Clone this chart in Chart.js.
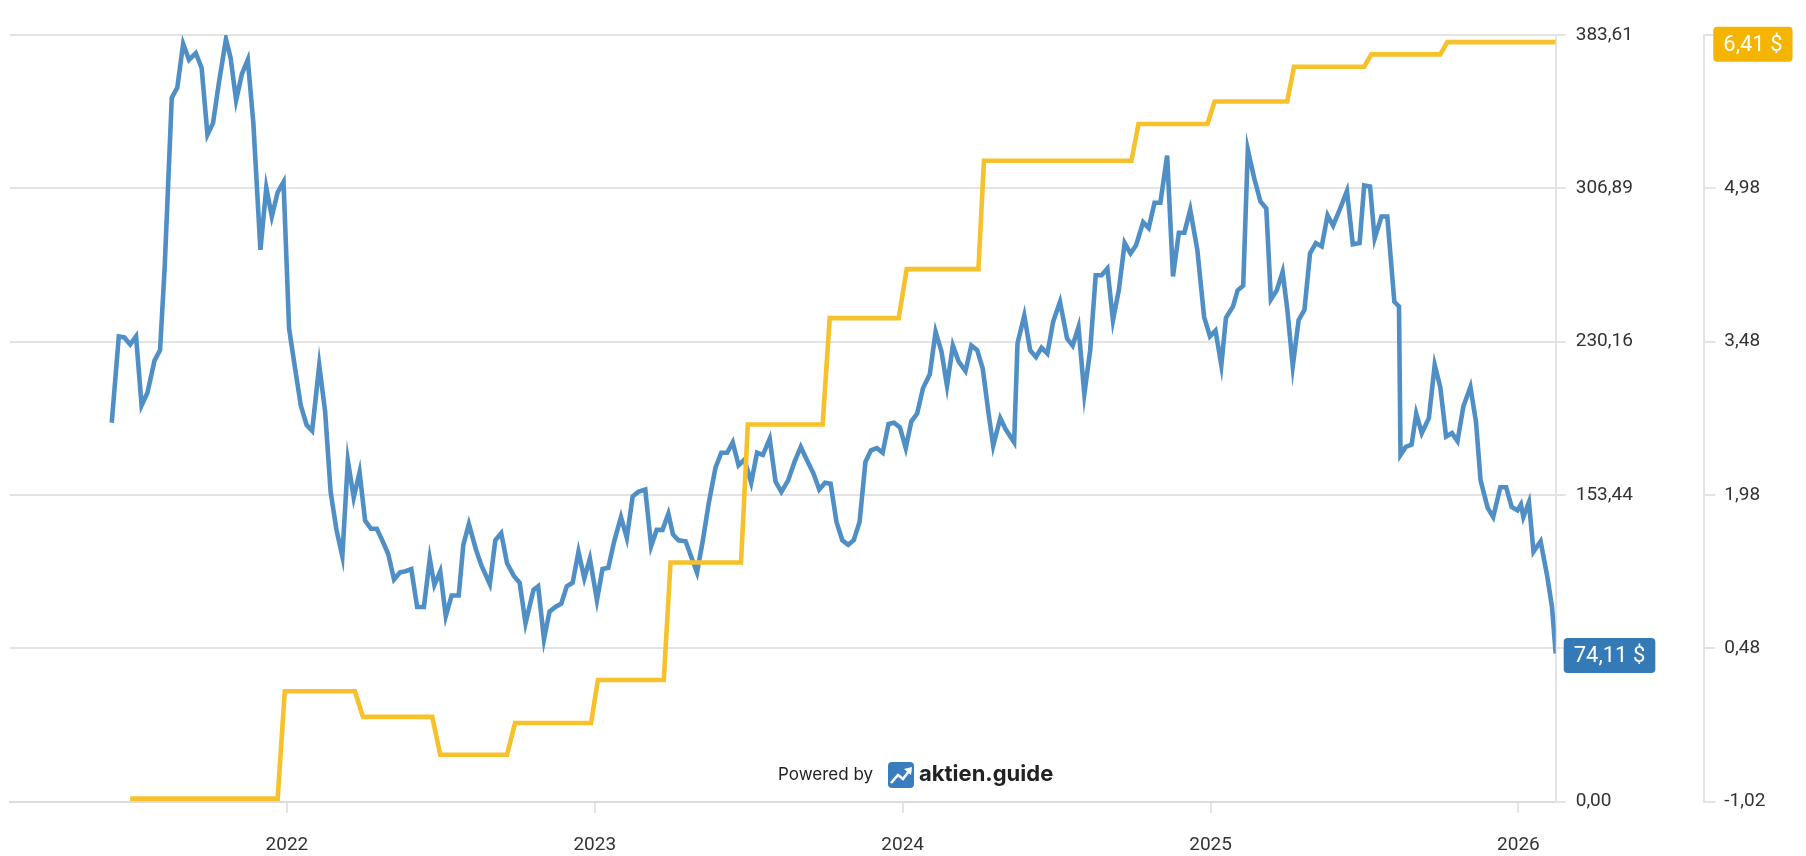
<!DOCTYPE html>
<html lang="de">
<head>
  <meta charset="UTF-8">
  <title>Kurs und Dividende</title>
  <script src="https://cdn.jsdelivr.net/npm/chart.js@4.4.1/dist/chart.umd.min.js"></script>
  <style>
    html, body { margin: 0; padding: 0; background: #fff; }
    #wrap { width: 1806px; height: 856px; position: relative; }
  </style>
</head>
<body>
<div id="wrap"><canvas id="kursChart"></canvas></div>

<script>
  // weekly closing price, x as decimal year
  const priceDates = [
    2021.431, 2021.454, 2021.472, 2021.491, 2021.510, 2021.528, 2021.547, 2021.570, 2021.588, 2021.603,
    2021.626, 2021.644, 2021.663, 2021.682, 2021.704, 2021.723, 2021.742, 2021.760, 2021.779, 2021.802,
    2021.817, 2021.835, 2021.854, 2021.873, 2021.891, 2021.914, 2021.933, 2021.951, 2021.970, 2021.989,
    2022.007, 2022.026, 2022.045, 2022.064, 2022.082, 2022.105, 2022.124, 2022.142, 2022.161, 2022.180,
    2022.198, 2022.217, 2022.236, 2022.254, 2022.273, 2022.292, 2022.311, 2022.329, 2022.348, 2022.367,
    2022.385, 2022.404, 2022.423, 2022.445, 2022.464, 2022.479, 2022.498, 2022.516, 2022.535, 2022.558,
    2022.573, 2022.591, 2022.614, 2022.632, 2022.659, 2022.677, 2022.696, 2022.715, 2022.737, 2022.756,
    2022.775, 2022.801, 2022.816, 2022.835, 2022.853, 2022.872, 2022.891, 2022.909, 2022.928, 2022.947,
    2022.966, 2022.984, 2023.007, 2023.025, 2023.044, 2023.063, 2023.085, 2023.104, 2023.123, 2023.141,
    2023.164, 2023.183, 2023.201, 2023.220, 2023.239, 2023.254, 2023.272, 2023.295, 2023.314, 2023.332,
    2023.351, 2023.370, 2023.392, 2023.411, 2023.430, 2023.448, 2023.467, 2023.486, 2023.508, 2023.527,
    2023.546, 2023.568, 2023.587, 2023.606, 2023.628, 2023.650, 2023.669, 2023.688, 2023.710, 2023.729,
    2023.748, 2023.766, 2023.785, 2023.804, 2023.823, 2023.841, 2023.860, 2023.879, 2023.897, 2023.916,
    2023.935, 2023.954, 2023.972, 2023.991, 2024.010, 2024.028, 2024.047, 2024.066, 2024.088, 2024.107,
    2024.126, 2024.144, 2024.163, 2024.182, 2024.204, 2024.223, 2024.242, 2024.260, 2024.279, 2024.294,
    2024.317, 2024.335, 2024.362, 2024.373, 2024.395, 2024.414, 2024.433, 2024.451, 2024.470, 2024.489,
    2024.511, 2024.534, 2024.552, 2024.571, 2024.590, 2024.609, 2024.627, 2024.646, 2024.665, 2024.683,
    2024.702, 2024.721, 2024.740, 2024.758, 2024.781, 2024.799, 2024.818, 2024.837, 2024.859, 2024.878,
    2024.897, 2024.915, 2024.934, 2024.957, 2024.979, 2024.998, 2025.016, 2025.035, 2025.050, 2025.073,
    2025.088, 2025.106, 2025.121, 2025.142, 2025.162, 2025.181, 2025.196, 2025.215, 2025.234, 2025.249,
    2025.267, 2025.286, 2025.305, 2025.323, 2025.342, 2025.361, 2025.380, 2025.398, 2025.421, 2025.443,
    2025.462, 2025.484, 2025.499, 2025.518, 2025.533, 2025.555, 2025.574, 2025.597, 2025.612, 2025.617,
    2025.634, 2025.653, 2025.668, 2025.686, 2025.709, 2025.728, 2025.746, 2025.765, 2025.784, 2025.802,
    2025.821, 2025.844, 2025.862, 2025.877, 2025.900, 2025.918, 2025.941, 2025.960, 2025.978, 2025.997,
    2026.008, 2026.016, 2026.034, 2026.049, 2026.072, 2026.094, 2026.109, 2026.121
  ];
  const priceValues = [
    189.6, 232.8, 232.3, 228.8, 232.8, 198.3, 204.6, 220.7, 225.9, 267.4,
    352.1, 357.3, 379.2, 371.2, 374.6, 367.1, 333.7, 339.5, 359.6, 381.5,
    372.3, 351.0, 364.2, 371.2, 339.5, 276.1, 307.2, 292.8, 304.9, 310.1,
    236.9, 217.3, 198.3, 188.5, 185.6, 218.4, 195.4, 155.0, 136.0, 122.8,
    170.6, 152.2, 164.8, 140.6, 136.6, 136.6, 130.3, 123.9, 111.2, 114.7,
    115.3, 116.4, 97.4, 97.4, 121.6, 108.4, 115.3, 92.8, 103.2, 103.2,
    128.5, 138.9, 126.2, 118.1, 108.9, 130.8, 134.3, 119.3, 113.0, 109.5,
    89.3, 106.0, 107.8, 81.3, 95.1, 97.4, 99.1, 107.8, 109.5, 125.1,
    111.8, 121.6, 100.9, 116.4, 117.0, 130.3, 142.4, 132.0, 152.7, 155.0,
    156.2, 127.9, 136.0, 136.0, 144.1, 133.7, 130.8, 130.3, 122.2, 114.7,
    130.8, 149.3, 167.1, 174.6, 174.6, 179.8, 168.3, 171.2, 159.6, 174.6,
    173.5, 181.5, 160.2, 155.0, 160.8, 170.6, 177.5, 171.2, 164.3, 156.2,
    159.6, 159.1, 140.0, 130.8, 128.5, 130.8, 140.0, 170.0, 175.8, 176.9,
    174.6, 189.0, 189.6, 187.3, 176.9, 190.2, 194.2, 206.9, 213.8, 235.1,
    225.3, 208.1, 228.2, 220.2, 215.5, 228.2, 225.9, 216.7, 194.2, 178.1,
    191.9, 186.2, 179.8, 229.4, 243.2, 225.9, 222.5, 227.1, 224.2, 240.3,
    250.1, 231.7, 228.2, 237.5, 204.0, 225.9, 263.4, 263.4, 266.8, 240.9,
    255.9, 279.5, 274.3, 278.4, 289.9, 287.0, 299.7, 299.7, 323.3, 262.8,
    284.7, 284.7, 296.2, 276.1, 242.6, 232.8, 235.7, 218.4, 242.1, 247.8,
    255.9, 258.2, 326.2, 311.8, 300.3, 296.8, 251.3, 255.9, 265.1, 246.7,
    217.9, 240.9, 246.1, 274.3, 279.5, 277.8, 293.4, 288.2, 296.8, 305.5,
    278.9, 279.5, 308.3, 307.8, 281.8, 292.8, 292.8, 250.1, 247.8, 173.5,
    177.5, 178.7, 194.2, 184.4, 191.9, 218.4, 207.5, 182.7, 184.4, 180.4,
    197.7, 207.5, 190.2, 160.8, 147.0, 142.4, 157.3, 157.3, 147.5, 145.8,
    148.7, 142.4, 149.8, 125.1, 130.3, 112.4, 97.4, 74.11
  ];

  // dividend line (right axis), corners of the steps
  const dividendDates = [
    2021.491, 2021.970, 2021.993, 2022.221, 2022.247, 2022.472, 2022.498, 2022.715,
    2022.741, 2022.988, 2023.010, 2023.224, 2023.246, 2023.475, 2023.497, 2023.740,
    2023.763, 2023.987, 2024.013, 2024.246, 2024.264, 2024.743, 2024.766, 2024.990,
    2025.013, 2025.249, 2025.271, 2025.499, 2025.522, 2025.746, 2025.769, 2026.121
  ];
  const dividendValues = [
    -0.99, -0.99, 0.06, 0.06, -0.19, -0.19, -0.56, -0.56,
    -0.25, -0.25, 0.17, 0.17, 1.32, 1.32, 2.67, 2.67,
    3.71, 3.71, 4.19, 4.19, 5.25, 5.25, 5.61, 5.61,
    5.83, 5.83, 6.17, 6.17, 6.29, 6.29, 6.41, 6.41
  ];

  const yearTicks = [2022, 2023, 2024, 2025, 2026];
  const priceTicks = [0, 76.7214, 153.4428, 230.1642, 306.8856, 383.607];
  const dividendTicks = [-1.02, 0.48, 1.98, 3.48, 4.98, 6.48];

  const BLUE = '#4f8fc6';
  const YELLOW = '#f6c12a';
  const GRID = '#e3e3e3';
  const TEXT = '#333333';
  const TICK_FONT = { family: 'Roboto', size: 19 };

  function fmt(v) {
    return v.toFixed(2).replace('.', ',');
  }

  function drawBadge(ctx, x, cy, text, color) {
    ctx.save();
    ctx.font = '22px Roboto';
    const w = ctx.measureText(text).width + 20;
    const h = 35;
    ctx.fillStyle = color;
    ctx.beginPath();
    ctx.roundRect(x, cy - h / 2, w, h, 4);
    ctx.fill();
    ctx.fillStyle = '#ffffff';
    ctx.textBaseline = 'middle';
    ctx.textAlign = 'left';
    ctx.fillText(text, x + 10, cy + 1);
    ctx.restore();
  }

  const badgePlugin = {
    id: 'badges',
    afterDraw(chart) {
      const ctx = chart.ctx;
      const y = chart.scales.y;
      const y2 = chart.scales.y2;
      const lastPrice = priceValues[priceValues.length - 1];
      const lastDiv = dividendValues[dividendValues.length - 1];
      drawBadge(ctx, y.left + 8, y.getPixelForValue(lastPrice) + 2, fmt(lastPrice) + ' $', '#337ab7');
      drawBadge(ctx, y2.left + 9, y2.getPixelForValue(lastDiv) + 2, fmt(lastDiv) + ' $', '#f4b400');
    }
  };

  // "Powered by aktien.guide" mark
  const brandPlugin = {
    id: 'brand',
    afterDraw(chart) {
      const ctx = chart.ctx;
      const cy = 775;
      ctx.save();
      ctx.textBaseline = 'middle';
      ctx.fillStyle = '#222222';
      ctx.font = '17px Inter';
      ctx.fillText('Powered by', 778, cy);

      const ix = 888, iy = 762, s = 26;
      ctx.fillStyle = '#3a7dbf';
      ctx.beginPath();
      ctx.roundRect(ix, iy, s, s, 4);
      ctx.fill();
      ctx.strokeStyle = '#ffffff';
      ctx.lineWidth = 2.6;
      ctx.beginPath();
      ctx.moveTo(ix + 3, iy + 21);
      ctx.lineTo(ix + 10, iy + 13);
      ctx.lineTo(ix + 15, iy + 17);
      ctx.lineTo(ix + 21, iy + 9);
      ctx.stroke();
      ctx.fillStyle = '#ffffff';
      ctx.beginPath();
      ctx.moveTo(ix + 24, iy + 5);
      ctx.lineTo(ix + 16, iy + 7);
      ctx.lineTo(ix + 23, iy + 13);
      ctx.closePath();
      ctx.fill();

      ctx.fillStyle = '#222222';
      ctx.font = 'bold 22px Inter';
      ctx.fillText('aktien.guide', 919, cy - 1);
      ctx.restore();
    }
  };

  const ctx = document.getElementById('kursChart').getContext('2d');
  new Chart(ctx, {
    type: 'line',
    data: {
      datasets: [
        {
          label: 'Dividende',
          data: dividendDates.map((x, i) => ({ x: x, y: dividendValues[i] })),
          yAxisID: 'y2',
          borderColor: YELLOW,
          borderWidth: 4.6,
          pointRadius: 0,
          tension: 0,
          fill: false,
          order: 0
        },
        {
          label: 'Kurs',
          data: priceDates.map((x, i) => ({ x: x, y: priceValues[i] })),
          yAxisID: 'y',
          borderColor: BLUE,
          borderWidth: 4.6,
          pointRadius: 0,
          tension: 0,
          fill: false,
          order: 1
        }
      ]
    },
    options: {
      responsive: true,
      maintainAspectRatio: false,
      animation: false,
      layout: { padding: { left: 10, top: 35, right: 0, bottom: 0 } },
      plugins: {
        legend: { display: false },
        tooltip: { enabled: false }
      },
      scales: {
        x: {
          type: 'linear',
          min: 2021.1006,
          max: 2026.121,
          afterBuildTicks: s => { s.ticks = yearTicks.map(v => ({ value: v })); },
          afterFit: s => { s.height = 54.3; },
          grid: { drawOnChartArea: false, drawTicks: true, tickLength: 11, color: GRID, lineWidth: 2 },
          border: { color: '#dcdcdc', width: 2 },
          ticks: {
            autoSkip: false,
            maxRotation: 0,
            padding: 21,
            color: TEXT,
            font: TICK_FONT,
            callback: v => String(v)
          }
        },
        y: {
          type: 'linear',
          position: 'right',
          weight: 0,
          min: 0,
          max: 383.607,
          afterBuildTicks: s => { s.ticks = priceTicks.map(v => ({ value: v })); },
          afterFit: s => { s.width = 148.6; },
          grid: { color: GRID, lineWidth: 2, tickLength: 10 },
          border: { color: GRID, width: 2 },
          ticks: {
            padding: 10,
            color: TEXT,
            font: TICK_FONT,
            callback: v => fmt(v)
          }
        },
        y2: {
          type: 'linear',
          position: 'right',
          weight: 1,
          min: -1.02,
          max: 6.48,
          afterBuildTicks: s => { s.ticks = dividendTicks.map(v => ({ value: v })); },
          afterFit: s => { s.width = 101.7; },
          grid: { drawOnChartArea: false, color: GRID, lineWidth: 2, tickLength: 11 },
          border: { color: GRID, width: 2 },
          ticks: {
            padding: 9,
            color: TEXT,
            font: TICK_FONT,
            callback: v => fmt(v)
          }
        }
      }
    },
    plugins: [badgePlugin, brandPlugin]
  });
</script>
</body>
</html>
